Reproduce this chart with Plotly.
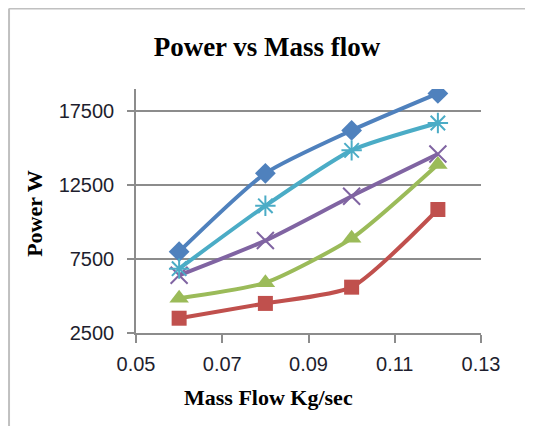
import plotly.graph_objects as go

mass_flow = [0.06, 0.08, 0.10, 0.12]
s_blue = [8000, 13300, 16200, 18700]
s_red = [3500, 4500, 5600, 10850]
s_green = [4850, 5900, 8900, 13900]
s_purple = [6400, 8750, 11750, 14600]
s_cyan = [6850, 11100, 14850, 16700]

x_ticks = [0.05, 0.07, 0.09, 0.11, 0.13]
y_ticks = [2500, 7500, 12500, 17500]

series = [
    ("Series1", s_blue, "#4F81BD", "diamond", 16, None),
    ("Series2", s_red, "#C0504D", "square", 15, None),
    ("Series3", s_green, "#9BBB59", "triangle-up", 17, None),
    ("Series4", s_purple, "#8064A2", "x-thin-open", 17, 2),
    ("Series5", s_cyan, "#4BACC6", "asterisk-open", 17, 2),
]

fig = go.Figure()
for name, ys, col, sym, size, lw in series:
    marker = dict(symbol=sym, size=size, color=col)
    if lw:
        marker["line"] = dict(color=col, width=lw)
    fig.add_trace(go.Scatter(
        x=mass_flow, y=ys, name=name, mode="lines+markers",
        line=dict(color=col, width=4, shape="spline", smoothing=0.6),
        marker=marker,
    ))

W, H = 525, 418
L, R, T, B = 128, 52, 81, 93

fig.update_layout(
    width=W, height=H,
    margin=dict(l=L, r=R, t=T, b=B),
    paper_bgcolor="white", plot_bgcolor="white",
    showlegend=False,
    title=dict(text="<b>Power vs Mass flow</b>", x=259 / W, xanchor="center",
               y=1 - 39 / H, yanchor="middle",
               font=dict(family="Liberation Serif", size=27, color="black")),
    shapes=[
        dict(type="line", xref="paper", yref="paper", x0=-0.368, x1=1.3,
             y0=1.330, y1=1.330, line=dict(color="#C0C0C0", width=2)),
        dict(type="line", xref="paper", yref="paper", x0=-0.368, x1=-0.368,
             y0=1.330, y1=-0.5, line=dict(color="#C0C0C0", width=2)),
    ],
    annotations=[
        dict(text="<b>Mass Flow Kg/sec</b>", xref="paper", yref="paper",
             x=0.385, y=-0.266, xanchor="center", yanchor="middle", showarrow=False,
             font=dict(family="Liberation Serif", size=22, color="black")),
        dict(text="<b>Power W</b>", xref="paper", yref="paper", textangle=-90,
             x=-0.293, y=0.492, xanchor="center", yanchor="middle", showarrow=False,
             font=dict(family="Liberation Serif", size=22, color="black")),
    ],
)

fig.update_xaxes(
    range=[0.05, 0.13], tickvals=x_ticks, ticktext=[f"{v:.2f}" for v in x_ticks],
    showgrid=False, showline=True, linecolor="#8C8C8C", linewidth=1.5,
    ticks="outside", ticklen=8, tickcolor="#8C8C8C", tickwidth=1.5,
    ticklabelstandoff=4,
    tickfont=dict(family="Liberation Sans", size=20, color="#1E1E2E"),
    zeroline=False,
)
fig.update_yaxes(
    range=[2500, 19000], tickvals=y_ticks, ticktext=[str(v) for v in y_ticks],
    showgrid=True, gridcolor="#8C8C8C", gridwidth=1.5,
    showline=True, linecolor="#8C8C8C", linewidth=1.5,
    ticks="outside", ticklen=7, tickcolor="#8C8C8C", tickwidth=1.5,
    ticklabelstandoff=9,
    tickfont=dict(family="Liberation Sans", size=20, color="#1E1E2E"),
    zeroline=False,
)

fig.write_html("out.html")
